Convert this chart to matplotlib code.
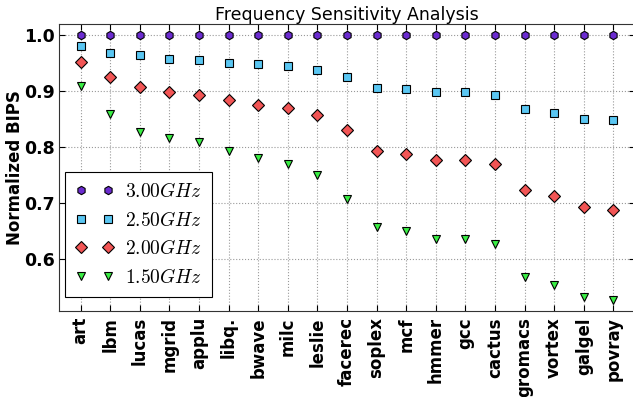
import matplotlib
matplotlib.use("Agg")
import matplotlib.pyplot as plt
import numpy as np

benchmarks = ["art", "lbm", "lucas", "mgrid", "applu", "libq.", "bwave", "milc", "leslie",
              "facerec", "soplex", "mcf", "hmmer", "gcc", "cactus", "gromacs", "vortex",
              "galgel", "povray"]
f300 = [1.0] * 19
f250 = [0.979, 0.967, 0.963, 0.956, 0.954, 0.950, 0.947, 0.944, 0.937, 0.924,
        0.905, 0.903, 0.897, 0.897, 0.892, 0.867, 0.861, 0.849, 0.847]
f200 = [0.951, 0.924, 0.907, 0.898, 0.893, 0.884, 0.875, 0.869, 0.856, 0.829,
        0.792, 0.787, 0.776, 0.776, 0.769, 0.723, 0.712, 0.692, 0.687]
f150 = [0.909, 0.859, 0.826, 0.815, 0.808, 0.7925, 0.7795, 0.769, 0.749, 0.7075,
        0.656, 0.650, 0.635, 0.635, 0.626, 0.5675, 0.553, 0.5325, 0.526]
labels = [r"$3.00GHz$", r"$2.50GHz$", r"$2.00GHz$", r"$1.50GHz$"]

plt.rcParams['mathtext.fontset'] = 'cm'
plt.rcParams['font.family'] = 'DejaVu Sans'

fig = plt.figure(figsize=(6.33, 3.97), dpi=100)
ax = fig.add_axes([0.0937, 0.2154, 0.9090, 0.7234])

x = np.arange(len(benchmarks))
series = [f300, f250, f200, f150]
markers = ['h', 's', 'D', 'v']
colors = ['#6b2bd0', '#5ac6f2', '#f25555', '#3aee44']
for vals, m, c, lab in zip(series, markers, colors, labels):
    ax.plot(x, vals, linestyle='none', marker=m, markersize=6, markerfacecolor=c,
            markeredgecolor='black', markeredgewidth=0.8, label=lab)

ax.set_xlim(-0.72, 18.72)
ax.set_ylim(0.506, 1.0185)
ax.set_xticks(x)
ax.set_xticklabels(benchmarks, rotation=90, fontsize=12, fontweight='bold')
ax.set_yticks([0.6, 0.7, 0.8, 0.9, 1.0])
ax.set_yticklabels(["0.6", "0.7", "0.8", "0.9", "1.0"], fontsize=12.5, fontweight='bold')
ax.tick_params(direction='in', length=4, top=True, right=True, pad=4)
ax.tick_params(axis='y', pad=3)
ax.grid(True, linestyle=':', color='#999999', linewidth=0.8)
ax.set_axisbelow(True)
for s in ax.spines.values():
    s.set_color('#333333')
ax.set_ylabel("Normalized BIPS", fontsize=12, fontweight='bold')
ax.yaxis.set_label_coords(-0.062, 0.5)
ax.set_title("Frequency Sensitivity Analysis", fontsize=12.5, pad=3)

leg = ax.legend(loc='lower left', bbox_to_anchor=(0.0099, 0.0515), borderaxespad=0,
                numpoints=2, fontsize=14, fancybox=False, framealpha=1,
                handlelength=2.0, labelspacing=0.5, borderpad=0.5, handletextpad=0.6)
leg.get_frame().set_edgecolor('black')
leg.get_frame().set_linewidth(0.8)

fig.savefig("out.png", dpi=100)
